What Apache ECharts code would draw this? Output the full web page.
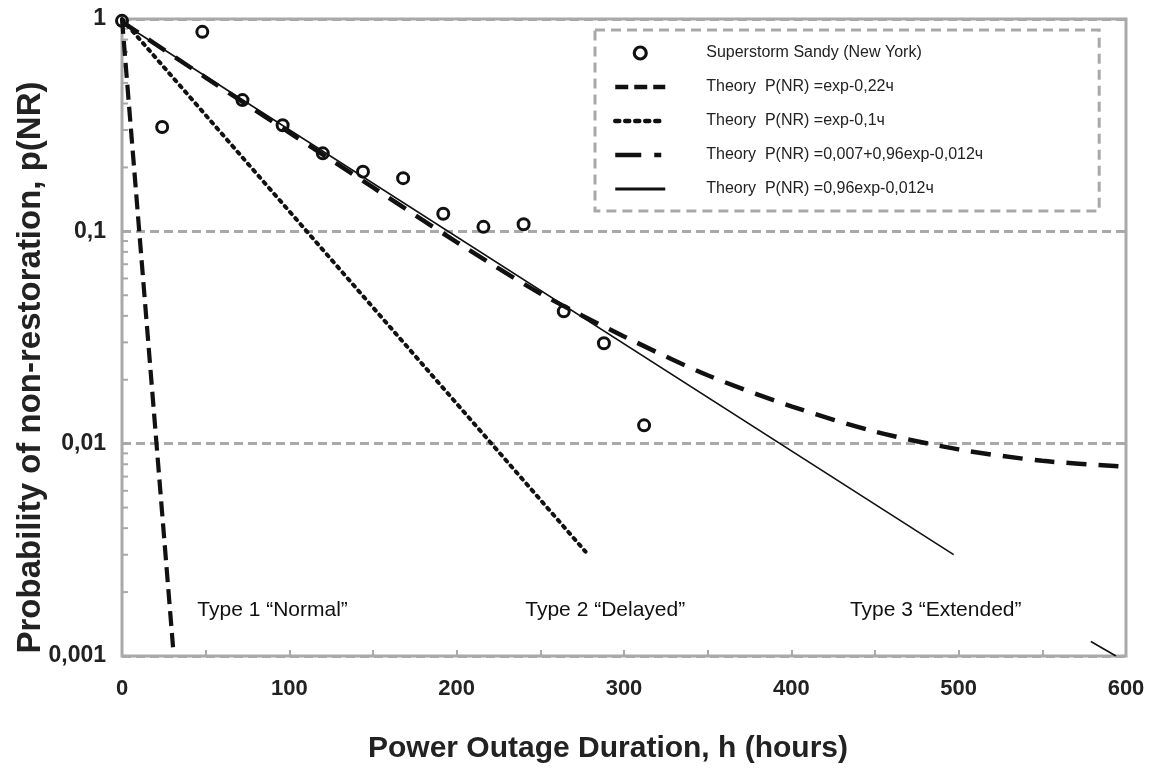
<!DOCTYPE html>
<html>
<head>
<meta charset="utf-8">
<script src="https://cdn.jsdelivr.net/npm/echarts@6/dist/echarts.min.js"></script>
<style>
html, body { margin: 0; padding: 0; background: #fff; }
#chart { width: 1149px; height: 768px; }
</style>
</head>
<body>
<div id="chart"></div>
<script>
// observed data (Superstorm Sandy, New York)
const sandyHours = [0, 24, 48, 72, 96, 120, 144, 168, 192, 216, 240, 264, 288, 312]
const sandyP = [0.98, 0.31, 0.87, 0.415, 0.316, 0.233, 0.191, 0.178, 0.121, 0.105, 0.108, 0.042, 0.0297, 0.0122]

// theory lines
const type1X = [0, 30.5]
const type1Y = [1, 0.0011]
const type2X = [0, 277]
const type2Y = [1, 0.0031]
const type3X = [0, 497, 540, 579, 594]
const type3Y = [0.96, 0.003, null, 0.00117, 0.001]
const curveX = [0, 50, 100, 150, 200, 250, 300, 350, 400, 450, 500, 550, 600]
const curveY = [0.97, 0.53, 0.292, 0.161, 0.089, 0.051, 0.032, 0.021, 0.015, 0.0114, 0.0094, 0.0083, 0.0078]

const legendNames = [
  'Superstorm Sandy (New York)',
  'Theory  P(NR) =exp-0,22ч',
  'Theory  P(NR) =exp-0,1ч',
  'Theory  P(NR) =0,007+0,96exp-0,012ч',
  'Theory  P(NR) =0,96exp-0,012ч',
]

const yLabels = ['0,001', '0,01', '0,1', '1']
const minorTickVals = [
  0.002, 0.003, 0.004, 0.005, 0.006, 0.007, 0.008, 0.009,
  0.02, 0.03, 0.04, 0.05, 0.06, 0.07, 0.08, 0.09,
  0.2, 0.3, 0.4, 0.5, 0.6, 0.7, 0.8, 0.9,
]

// zone captions
const typeNames = ['Type 1 \u201cNormal\u201d', 'Type 2 \u201cDelayed\u201d', 'Type 3 \u201cExtended\u201d']
const typeX = [45, 241, 435]
const typeY = [0.00164, 0.00164, 0.00164]

const BLACK = '#111'
const GRAY = '#a9a9a9'
const pairs = (xs, ys) => xs.map((x, i) => [x, ys[i] == null ? '-' : ys[i]])

// legend icon styles (legend draws them a bit heavier than the plot)
const legendLines = [
  null,
  { width: 4.5, type: [13, 6], color: BLACK },
  { width: 4.5, type: [4, 6], cap: 'round', color: BLACK },
  { width: 4.5, type: [26, 13, 7, 13], color: BLACK },
  { width: 3, type: 'solid', color: BLACK },
]

const chart = echarts.init(document.getElementById('chart'))
const option = {
  animation: false,
  backgroundColor: '#fff',
  grid: {
    left: 122, right: 23, top: 19, bottom: 112,
    outerBoundsMode: 'none',
    show: true, borderColor: GRAY, borderWidth: 3, backgroundColor: '#fff',
  },
  legend: {
    data: legendNames.map((n, i) => (i === 0
      ? { name: n, itemStyle: { borderWidth: 3.2, opacity: 1 } }
      : { name: n, itemStyle: { opacity: 0 }, lineStyle: legendLines[i] })),
    orient: 'vertical',
    left: 595, top: 30,
    padding: [15, 116, 14, 18],
    itemWidth: 50, itemHeight: 12, itemGap: 18,
    borderColor: GRAY, borderWidth: 3, borderType: [10, 6],
    textStyle: { fontFamily: 'Liberation Sans, Arial', fontSize: 16, color: '#222', padding: [0, 0, 0, 36] },
  },
  xAxis: {
    type: 'value', min: 0, max: 600, interval: 50,
    name: 'Power Outage Duration, h (hours)',
    nameLocation: 'middle', nameGap: 78, nameMoveOverlap: false,
    nameTextStyle: { fontFamily: 'Liberation Sans, Arial', fontWeight: 'bold', fontSize: 30, color: '#222', padding: [0, 32, 0, 0] },
    axisLine: { show: false },
    axisTick: { show: true, inside: true, length: 6, lineStyle: { color: GRAY, width: 2 } },
    splitLine: { show: false },
    axisLabel: {
      margin: 22,
      fontFamily: 'Liberation Sans, Arial', fontWeight: 'bold', fontSize: 22, color: '#222',
      formatter: (v) => (v % 100 === 0 ? String(v) : ''),
    },
  },
  yAxis: {
    type: 'log', logBase: 10, min: 0.001, max: 1,
    name: 'Probability of non-restoration, p(NR)',
    nameLocation: 'middle', nameGap: 75, nameMoveOverlap: false,
    nameTextStyle: { fontFamily: 'Liberation Sans, Arial', fontWeight: 'bold', fontSize: 33, color: '#222', padding: [0, 60, 0, 0] },
    axisLine: { show: false },
    axisTick: { show: false },
    splitLine: { show: true, lineStyle: { color: GRAY, width: 3, type: [9, 5] } },
    axisLabel: {
      margin: 16,
      fontFamily: 'Liberation Sans, Arial', fontWeight: 'bold', fontSize: 23, color: '#222',
      formatter: (v) => yLabels[Math.round(Math.log10(v)) + 3],
    },
  },
  series: [
    {
      name: 'minorTicks',
      type: 'custom',
      silent: true,
      data: minorTickVals.map((v) => [0, v]),
      renderItem: (params, api) => {
        const p = api.coord([api.value(0), api.value(1)])
        return {
          type: 'line',
          shape: { x1: p[0], y1: p[1], x2: p[0] + 6, y2: p[1] },
          style: { stroke: GRAY, lineWidth: 2 },
        }
      },
    },
    {
      name: legendNames[1],
      type: 'line', symbol: 'none',
      data: pairs(type1X, type1Y),
      lineStyle: { color: BLACK, width: 4.2, type: [15, 7] },
      itemStyle: { color: BLACK },
    },
    {
      name: legendNames[2],
      type: 'line', symbol: 'none',
      data: pairs(type2X, type2Y),
      lineStyle: { color: BLACK, width: 4, type: [2.5, 5.5], cap: 'round' },
      itemStyle: { color: BLACK },
    },
    {
      name: legendNames[3],
      type: 'line', symbol: 'none', smooth: 0.3,
      data: pairs(curveX, curveY),
      lineStyle: { color: BLACK, width: 4.5, type: [20, 12] },
      itemStyle: { color: BLACK },
    },
    {
      name: legendNames[4],
      type: 'line', symbol: 'none', connectNulls: false,
      data: pairs(type3X, type3Y),
      lineStyle: { color: BLACK, width: 1.6 },
      itemStyle: { color: BLACK },
    },
    {
      name: legendNames[0],
      type: 'scatter', symbol: 'circle', symbolSize: 11, z: 5,
      data: pairs(sandyHours, sandyP),
      itemStyle: { color: 'rgba(255,255,255,0)', borderColor: BLACK, borderWidth: 3, opacity: 1 },
    },
    {
      name: 'captions',
      type: 'scatter', symbolSize: 0, silent: true,
      data: typeX.map((x, i) => ({ value: [x, typeY[i]], label: { formatter: typeNames[i] } })),
      itemStyle: { opacity: 1 },
      label: {
        show: true, position: 'right', distance: 0,
        fontFamily: 'Liberation Sans, Arial', fontSize: 21, color: '#111',
      },
    },
  ],
}
chart.setOption(option)
</script>
</body>
</html>
